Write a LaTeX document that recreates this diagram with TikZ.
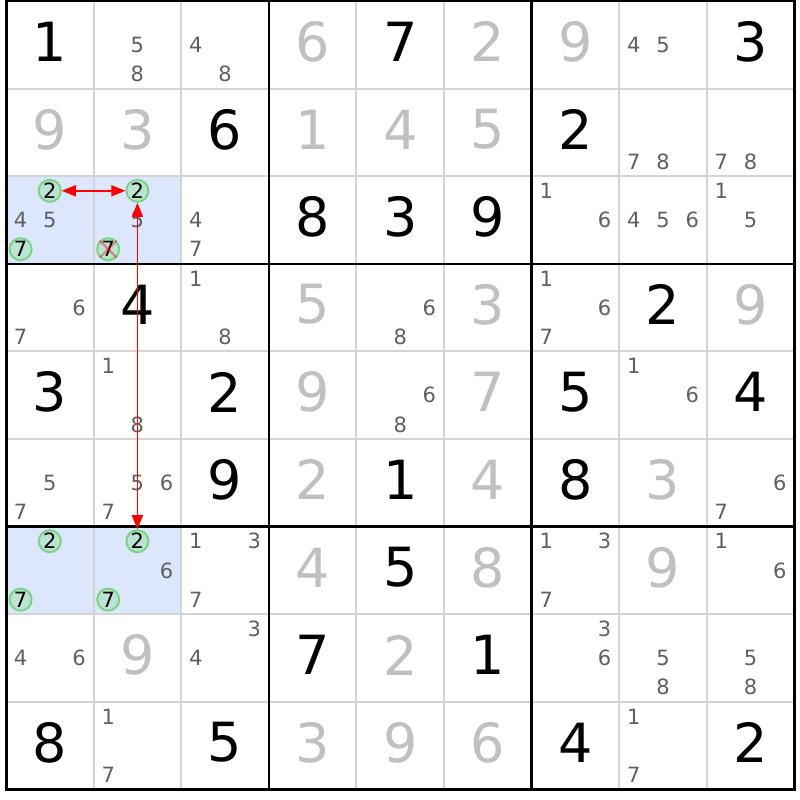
\documentclass[tikz,border=0pt]{standalone}
\usepackage{fontspec}
\setmainfont{DejaVu Sans}
\usetikzlibrary{arrows.meta}

\definecolor{hlblue}{RGB}{220,230,252}
\definecolor{givengray}{RGB}{192,192,192}
\definecolor{candgray}{RGB}{96,96,96}
\definecolor{ringgreen}{RGB}{120,214,130}
\definecolor{ringfill}{RGB}{188,228,212}
\definecolor{thingray}{RGB}{212,212,212}

\begin{document}
\begin{tikzpicture}[x=1pt,y=-1pt,
  solved/.style={inner sep=0pt,font=\fontsize{54}{54}\selectfont,text=black},
  given/.style={solved,text=givengray},
  cand/.style={inner sep=0pt,font=\fontsize{21}{21}\selectfont,text=candgray},
  ringed/.style={cand,text=black,circle,draw=ringgreen,fill=ringfill,line width=2pt,minimum size=22pt},
  link/.style={red,line width=1.8pt,{Triangle[length=14pt,width=11pt]}-{Triangle[length=14pt,width=11pt]}}]
\useasboundingbox (0,0) rectangle (800,800);
\fill[white] (0,0) rectangle (800,800);
% highlighted cells
\fill[hlblue] (6,176.2) rectangle (181.2,263.8);
\fill[hlblue] (6,526.6) rectangle (181.2,614.2);
% thin lines
\foreach \i in {1,2,4,5,7,8}{
  \draw[thingray,line width=2pt] (6+87.6*\i,1) -- (6+87.6*\i,789.4);
  \draw[thingray,line width=2pt] (6,1+87.6*\i) -- (794.4,1+87.6*\i);
}
% box lines
\foreach \i in {3,6}{
  \draw[black,line width=2.5pt] (6+87.6*\i,1) -- (6+87.6*\i,789.4);
  \draw[black,line width=2.5pt] (6,1+87.6*\i) -- (794.4,1+87.6*\i);
}
\draw[black,line width=3pt] (6,1) rectangle (794.4,789.4);
% solved digits
\foreach \r/\c/\d in {1/1/1,1/5/7,1/9/3,2/3/6,2/7/2,3/4/8,3/5/3,3/6/9,4/2/4,4/8/2,
  5/1/3,5/3/2,5/7/5,5/9/4,6/3/9,6/5/1,6/7/8,7/5/5,8/4/7,8/6/1,9/1/8,9/3/5,9/7/4,9/9/2}
  \node[solved] (s\r\c) at ({6+87.6*(\c-0.5)},{1+87.6*(\r-0.5)-3}) {\d};
% given digits
\foreach \r/\c/\d in {1/4/6,1/6/2,1/7/9,2/1/9,2/2/3,2/4/1,2/5/4,2/6/5,4/4/5,4/6/3,4/9/9,
  5/4/9,5/6/7,6/4/2,6/6/4,6/8/3,7/4/4,7/6/8,7/8/9,8/2/9,8/5/2,9/4/3,9/5/9,9/6/6}
  \node[given] (g\r\c) at ({6+87.6*(\c-0.5)},{1+87.6*(\r-0.5)-3}) {\d};
% candidates
\foreach \r/\c/\d in {1/2/5,1/2/8,1/3/4,1/3/8,1/8/4,1/8/5,2/8/7,2/8/8,2/9/7,2/9/8,
  3/1/4,3/1/5,3/2/5,3/3/4,3/3/7,3/7/1,3/7/6,3/8/4,3/8/5,3/8/6,3/9/1,3/9/5,
  4/1/6,4/1/7,4/3/1,4/3/8,4/5/6,4/5/8,4/7/1,4/7/6,4/7/7,5/2/1,5/2/8,5/5/6,5/5/8,5/8/1,5/8/6,
  6/1/5,6/1/7,6/2/5,6/2/6,6/2/7,6/9/6,6/9/7,7/2/6,7/3/1,7/3/3,7/3/7,7/7/1,7/7/3,7/7/7,7/9/1,7/9/6,
  8/1/4,8/1/6,8/3/3,8/3/4,8/7/3,8/7/6,8/8/5,8/8/8,8/9/5,8/9/8,9/2/1,9/2/7,9/8/1,9/8/7}{
  \pgfmathsetmacro\cx{6+87.6*(\c-1)+14.6+29.2*mod(\d-1,3)}
  \pgfmathsetmacro\cy{1+87.6*(\r-1)+14.6+29.2*div(\d-1,3)}
  \node[cand] (c\r\c\d) at (\cx,\cy) {\d};
}
% circled candidates
\foreach \r/\c/\d in {3/1/2,3/1/7,3/2/2,3/2/7,7/1/2,7/1/7,7/2/2,7/2/7}{
  \pgfmathsetmacro\cx{6+87.6*(\c-1)+14.6+29.2*mod(\d-1,3)}
  \pgfmathsetmacro\cy{1+87.6*(\r-1)+14.6+29.2*div(\d-1,3)}
  \node[ringed] (c\r\c\d) at (\cx,\cy) {\d};
}
% eliminated
\draw[red,opacity=0.4,line width=2.2pt] (c327.north west) -- (c327.south east);
\draw[red,opacity=0.4,line width=2.2pt] (c327.north east) -- (c327.south west);
% links
\draw[link] (c312) -- (c322);
\draw[link] (c322) -- (c722);
\end{tikzpicture}
\end{document}
